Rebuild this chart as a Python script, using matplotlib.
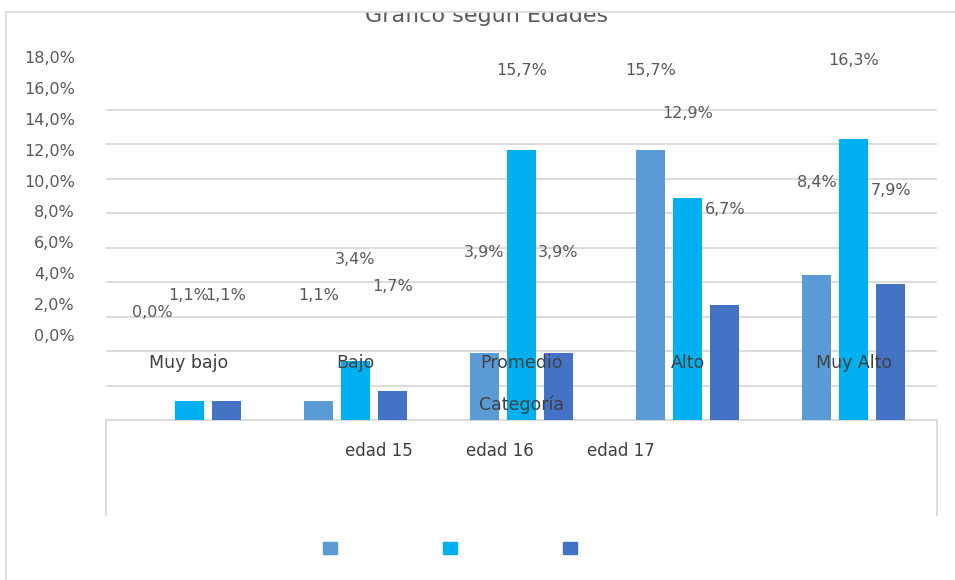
import matplotlib
matplotlib.use("Agg")
import matplotlib.pyplot as plt
from matplotlib.patches import Patch, Rectangle
from matplotlib.ticker import FuncFormatter

categorias = ["Muy bajo", "Bajo", "Promedio", "Alto", "Muy Alto"]
series = ["edad 15", "edad 16", "edad 17"]
edad_15 = [0.0, 1.1, 3.9, 15.7, 8.4]
edad_16 = [1.1, 3.4, 15.7, 12.9, 16.3]
edad_17 = [1.1, 1.7, 3.9, 6.7, 7.9]
colores = ["#5B9BD5", "#00B0F0", "#4472C4"]

W, H = 955, 580
GRIS = "#D9D9D9"
TEXTO = "#595959"
OSCURO = "#404040"


def pct(v, pos=None):
    return f"{v:.1f}%".replace(".", ",")


fig = plt.figure(figsize=(W / 100, H / 100), dpi=100)

# area de barras (con el bloque del eje de categorias debajo del cero)
ax = fig.add_axes([106 / W, 1 - 515 / H, 831 / W, (515 - 108.3) / H])
ax.set_xlim(-0.5, 4.5)
ax.set_ylim(-5.517, 18.1)
ax.set_yticks(range(0, 19, 2))
ax.grid(axis="y", color=GRIS, lw=1.3)
ax.set_axisbelow(True)
ax.tick_params(left=False, bottom=False, labelleft=False, labelbottom=False)
for s in ["top", "bottom"]:
    ax.spines[s].set_visible(False)
for s in ["left", "right"]:
    ax.spines[s].set_bounds(-5.517, 0)
    ax.spines[s].set_color(GRIS)
    ax.spines[s].set_linewidth(1.3)

ancho = 0.1745
paso = 0.2226
valores = [edad_15, edad_16, edad_17]
xs = range(len(categorias))
for k, (vals, col) in enumerate(zip(valores, colores)):
    ax.bar([x + (k - 1) * paso for x in xs], vals, width=ancho, color=col)

for i, cat in enumerate(categorias):
    ax.text(i, 3.31, cat, ha="center", va="center", fontsize=12.5, color=OSCURO)
ax.text(0.5, 0.2705, "Categoría", transform=ax.transAxes,
        ha="center", va="center", fontsize=12.5, color=OSCURO)

# eje de porcentajes y etiquetas de datos
ax2 = fig.add_axes([106 / W, 1 - 335 / H, 831 / W, (335 - 57) / H])
ax2.set_xlim(-0.5, 4.5)
ax2.set_ylim(0, 18)
ax2.set_yticks(range(0, 19, 2))
ax2.yaxis.set_major_formatter(FuncFormatter(pct))
ax2.tick_params(left=False, bottom=False, labelbottom=False,
                labelsize=11.5, labelcolor=TEXTO, pad=19)
ax2.patch.set_visible(False)
for s in ax2.spines.values():
    s.set_visible(False)

for k, vals in enumerate(valores):
    for i, v in enumerate(vals):
        ax2.annotate(pct(v), (i + (k - 1) * paso, v), xytext=(0, 16.2),
                     textcoords="offset points", ha="center", va="center",
                     fontsize=11.5, color=TEXTO, annotation_clip=False)

# textos de la leyenda
for nombre, xc in zip(series, [379, 500, 621]):
    fig.text(xc / W, 1 - 451 / H, nombre, ha="center", va="center",
             fontsize=12, color=OSCURO)

fig.legend([Patch(color=c) for c in colores], ["", "", ""], ncol=3,
           loc="center", bbox_to_anchor=(450 / W, 1 - 549 / H), frameon=False,
           fontsize=10, handlelength=1, handleheight=1, handletextpad=0,
           columnspacing=7.67)

# titulo, cortado por el borde superior
fig.text(487 / W, 1 - 22 / H, "Gráfico según Edades", ha="center",
         va="baseline", fontsize=16, color=TEXTO, zorder=3)
fig.add_artist(Rectangle((0, 1 - 12 / H), 1, 12 / H, transform=fig.transFigure,
                         facecolor="white", edgecolor="none", zorder=4))

# borde del grafico
fig.add_artist(Rectangle((6 / W, -0.5), 2, 1.5 - 12 / H, transform=fig.transFigure,
                         fill=False, edgecolor=GRIS, lw=1.2, zorder=5))

fig.savefig("out.png", dpi=100)
